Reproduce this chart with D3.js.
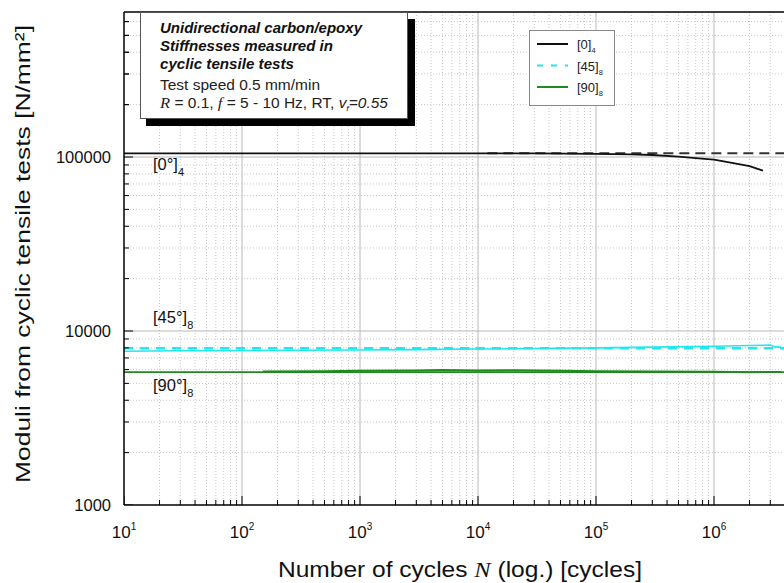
<!DOCTYPE html>
<html>
<head>
<meta charset="utf-8">
<script src="https://cdn.jsdelivr.net/npm/d3@7"></script>
<style>
  body { margin: 0; background: #fff; }
  svg { display: block; font-family: "Liberation Sans", Arial, sans-serif; }
</style>
</head>
<body>
<div id="chart"></div>
<script>
// ---- data ----
const decadeExps = [1, 2, 3, 4, 5, 6];
const yTickValues = [1000, 10000, 100000];

// [0]4 : stiffness vs cycles
const cycles0 = [10, 100, 1e3, 1e4, 3e4, 1e5, 2e5, 3e5, 5e5, 7e5, 1e6, 1.5e6, 2e6, 2.6e6];
const moduli0 = [105000, 105000, 105000, 105000, 104800, 104200, 103500, 102700, 100500, 98500, 96500, 92000, 88500, 83400];
// [45]8
const cycles45 = [10, 30, 100, 300, 1e3, 3e3, 1e4, 3e4, 1e5, 3e5, 1e6, 2e6, 3e6, 3.3e6, 3.7e6];
const moduli45 = [7650, 7700, 7720, 7750, 7780, 7820, 7880, 7930, 8000, 8080, 8180, 8250, 8300, 8100, 8080];
// [90]8
const cycles90 = [150, 500, 1e3, 3e3, 5e3, 1e4, 2e4, 5e4, 1e5, 3e5, 1e6, 2e6, 3.7e6];
const moduli90 = [5850, 5880, 5900, 5930, 5960, 5920, 5950, 5900, 5880, 5860, 5830, 5800, 5820];

// static (reference) moduli drawn as horizontal lines
const refLabels = ['[0]', '[45]', '[90]'];
const refSubs = ['4', '8', '8'];
const refValues = [105000, 7950, 5800];
const refStart = [1.2e4, 10, 10];

const width = 784, height = 583;
const plotLeft = 124, plotTop = 12, plotBottom = 505;

const x = d3.scaleLog().domain([10, 1e7]).range([plotLeft, plotLeft + 6 * 118]);
const y = d3.scaleLog().domain([1000, 1e6]).range([plotBottom, plotBottom - 3 * 174]);

const svg = d3.select('#chart').append('svg')
  .attr('width', width).attr('height', height)
  .attr('viewBox', [0, 0, width, height]);

svg.append('defs').append('clipPath').attr('id', 'plot')
  .append('rect').attr('x', plotLeft).attr('y', plotTop)
  .attr('width', width - plotLeft).attr('height', plotBottom - plotTop);

// ---- grid ----
const minorX = [], minorY = [];
for (let e = 1; e <= 6; e++) for (let m = 2; m <= 9; m++) minorX.push(m * Math.pow(10, e));
for (let e = 3; e <= 5; e++) for (let m = 2; m <= 9; m++) minorY.push(m * Math.pow(10, e));

const grid = svg.append('g').attr('clip-path', 'url(#plot)');
grid.selectAll('.mx').data(minorX).join('line')
  .attr('x1', d => x(d)).attr('x2', d => x(d)).attr('y1', plotTop).attr('y2', plotBottom)
  .attr('stroke', '#c8c8c8').attr('stroke-dasharray', '1,2');
grid.selectAll('.my').data(minorY).join('line')
  .attr('y1', d => y(d)).attr('y2', d => y(d)).attr('x1', plotLeft).attr('x2', width)
  .attr('stroke', '#c8c8c8').attr('stroke-dasharray', '1,2');
grid.selectAll('.Mx').data(decadeExps.slice(1)).join('line')
  .attr('x1', d => x(Math.pow(10, d))).attr('x2', d => x(Math.pow(10, d)))
  .attr('y1', plotTop).attr('y2', plotBottom).attr('stroke', '#b8b8b8');
grid.selectAll('.My').data([1e4, 1e5]).join('line')
  .attr('y1', d => y(d)).attr('y2', d => y(d)).attr('x1', plotLeft).attr('x2', width)
  .attr('stroke', '#b8b8b8');

// ---- lines ----
const line = d3.line().x(d => x(d[0])).y(d => y(d[1]));
const plot = svg.append('g').attr('clip-path', 'url(#plot)').attr('fill', 'none');

const black = '#111', cyan = '#1ee8f0', green = '#1f8a1f';

// reference lines
plot.append('path').attr('d', line([[refStart[0], refValues[0]], [1e7, refValues[0]]]))
  .attr('stroke', '#333').attr('stroke-width', 2).attr('stroke-dasharray', '10,6');
plot.append('path').attr('d', line([[refStart[1], refValues[1]], [1e7, refValues[1]]]))
  .attr('stroke', cyan).attr('stroke-width', 2.5).attr('stroke-dasharray', '9,7');
plot.append('path').attr('d', line([[refStart[2], refValues[2]], [1e7, refValues[2]]]))
  .attr('stroke', green).attr('stroke-width', 1.6);

// measured curves
plot.append('path').attr('d', line(d3.zip(cycles45, moduli45)))
  .attr('stroke', cyan).attr('stroke-width', 1.6);
plot.append('path').attr('d', line(d3.zip(cycles90, moduli90)))
  .attr('stroke', green).attr('stroke-width', 2);
plot.append('path').attr('d', line(d3.zip(cycles0, moduli0)))
  .attr('stroke', black).attr('stroke-width', 1.8);

// ---- axes & frame ----
const frame = svg.append('g').attr('stroke', '#000').attr('fill', 'none');
frame.append('line').attr('x1', plotLeft).attr('x2', plotLeft).attr('y1', plotTop).attr('y2', plotBottom).attr('stroke-width', 1.5);
frame.append('line').attr('x1', plotLeft).attr('x2', width).attr('y1', plotBottom).attr('y2', plotBottom).attr('stroke-width', 1.5);
frame.append('line').attr('x1', plotLeft).attr('x2', width).attr('y1', plotTop).attr('y2', plotTop).attr('stroke-width', 1.5);

// inward ticks (kept inside the frame)
const ticks = frame.append('g').attr('clip-path', 'url(#plot)');
ticks.selectAll('.tx').data(minorX).join('line')
  .attr('x1', d => x(d)).attr('x2', d => x(d)).attr('y1', plotBottom).attr('y2', plotBottom - 5);
ticks.selectAll('.tX').data(decadeExps).join('line')
  .attr('x1', d => x(Math.pow(10, d))).attr('x2', d => x(Math.pow(10, d))).attr('y1', plotBottom).attr('y2', plotBottom - 9);
ticks.selectAll('.ty').data(minorY.concat([2e5, 3e5, 4e5, 5e5, 6e5])).join('line')
  .attr('y1', d => y(d)).attr('y2', d => y(d)).attr('x1', plotLeft).attr('x2', plotLeft + 5);
ticks.selectAll('.tY').data(yTickValues).join('line')
  .attr('y1', d => y(d)).attr('y2', d => y(d)).attr('x1', plotLeft).attr('x2', plotLeft + 9);

// tick labels
svg.selectAll('.yl').data(yTickValues).join('text')
  .attr('x', plotLeft - 13).attr('y', d => y(d) + 6)
  .attr('text-anchor', 'end').attr('font-size', 16.5).attr('fill', '#111')
  .text(d => d);

const xl = svg.selectAll('.xl').data(decadeExps).join('text')
  .attr('x', d => x(Math.pow(10, d))).attr('y', 538)
  .attr('text-anchor', 'middle').attr('font-size', 17).attr('fill', '#111');
xl.append('tspan').text('10');
xl.append('tspan').attr('dy', -8).attr('font-size', 10).text(d => d);

// axis titles
const xt = svg.append('text').attr('x', 460).attr('y', 577)
  .attr('text-anchor', 'middle').attr('font-size', 22).attr('fill', '#111')
  .attr('textLength', 364).attr('lengthAdjust', 'spacingAndGlyphs');
xt.append('tspan').text('Number of cycles ');
xt.append('tspan').attr('font-family', '"Liberation Serif", serif').attr('font-style', 'italic').text('N');
xt.append('tspan').text(' (log.) [cycles]');

svg.append('text').attr('transform', 'translate(30,254) rotate(-90)')
  .attr('text-anchor', 'middle').attr('font-size', 21).attr('fill', '#111')
  .attr('textLength', 458).attr('lengthAdjust', 'spacingAndGlyphs')
  .text('Moduli from cyclic tensile tests [N/mm²]');

// curve annotations
const annY = [170, 323, 391];
const annText = ['[0°]', '[45°]', '[90°]'];
annText.forEach((t, i) => {
  const a = svg.append('text').attr('x', 153).attr('y', annY[i]).attr('font-size', 16.5).attr('fill', '#111');
  a.append('tspan').text(t);
  a.append('tspan').attr('dy', 6).attr('font-size', 11).text(refSubs[i]);
});

// info box with shadow
svg.append('rect').attr('x', 146).attr('y', 19).attr('width', 269).attr('height', 107).attr('fill', '#000');
svg.append('rect').attr('x', 140.5).attr('y', 12.5).attr('width', 267).attr('height', 106)
  .attr('fill', '#fff').attr('stroke', '#555');
const boxLines = ['Unidirectional carbon/epoxy', 'Stiffnesses measured in', 'cyclic tensile tests'];
const boxLens = [202, 173, 134];
const boxY = [33, 51, 69];
boxLines.forEach((t, i) => {
  svg.append('text').attr('x', 160).attr('y', boxY[i])
    .attr('font-size', 14).attr('font-weight', 'bold').attr('font-style', 'italic').attr('fill', '#111')
    .attr('textLength', boxLens[i]).attr('lengthAdjust', 'spacingAndGlyphs').text(t);
});
svg.append('text').attr('x', 160).attr('y', 90).attr('font-size', 14).attr('fill', '#222')
  .attr('textLength', 160).attr('lengthAdjust', 'spacingAndGlyphs').text('Test speed 0.5 mm/min');
const last = svg.append('text').attr('x', 160).attr('y', 108).attr('font-size', 14).attr('fill', '#222')
  .attr('textLength', 228).attr('lengthAdjust', 'spacingAndGlyphs');
last.append('tspan').attr('font-family', '"Liberation Serif", serif').attr('font-style', 'italic').attr('font-size', 15).text('R');
last.append('tspan').text(' = 0.1, ');
last.append('tspan').attr('font-family', '"Liberation Serif", serif').attr('font-style', 'italic').attr('font-size', 15).text('f');
last.append('tspan').text(' = 5 - 10 Hz, RT, ');
last.append('tspan').attr('font-style', 'italic').text('v');
last.append('tspan').attr('dy', 3).attr('font-size', 8).attr('font-style', 'italic').text('f');
last.append('tspan').attr('dy', -3).attr('font-style', 'italic').text('=0.55');

// legend
svg.append('rect').attr('x', 529.5).attr('y', 30.5).attr('width', 85).attr('height', 75)
  .attr('fill', '#fff').attr('stroke', '#888');
const legColors = [black, cyan, green];
const legDash = [null, '6,8', null];
refLabels.forEach((t, i) => {
  const ly = 44 + i * 21.5;
  svg.append('line').attr('x1', 537).attr('x2', 568).attr('y1', ly).attr('y2', ly)
    .attr('stroke', legColors[i]).attr('stroke-width', 2).attr('stroke-dasharray', legDash[i]);
  const tx = svg.append('text').attr('x', 577).attr('y', ly + 5).attr('font-size', 13).attr('fill', '#222');
  tx.append('tspan').text(t);
  tx.append('tspan').attr('dy', 4).attr('font-size', 7.5).text(refSubs[i]);
});
</script>
</body>
</html>
